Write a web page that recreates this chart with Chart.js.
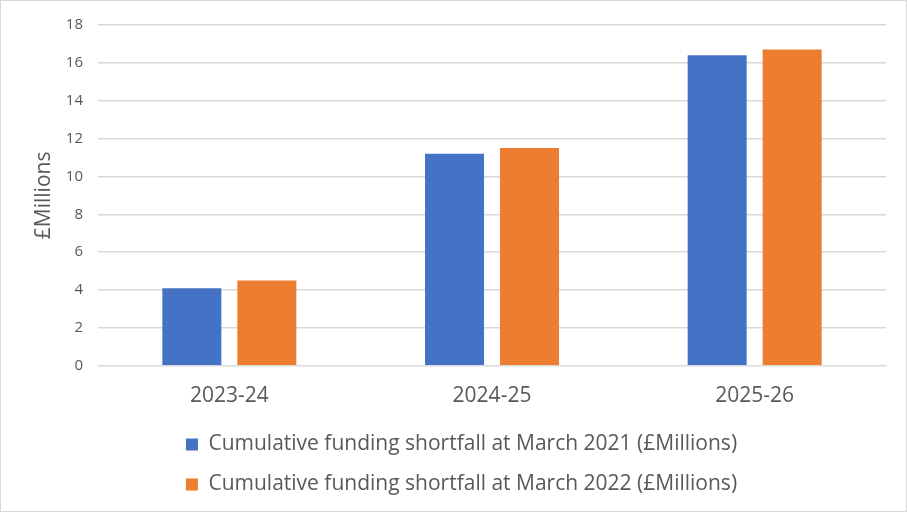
<!DOCTYPE html>
<html><head><meta charset="utf-8">
<script src="https://cdn.jsdelivr.net/npm/chart.js@4"></script>
<style>
html,body{margin:0;padding:0;background:#fff;}
#wrap{position:absolute;left:0;top:0;width:905px;height:510px;border:1px solid #d9d9d9;}
</style></head><body>
<div id="wrap"><canvas id="c" width="905" height="510"></canvas></div>
<script>
const categories = ["2023-24", "2024-25", "2025-26"];
const series2021 = [4.1, 11.2, 16.4];
const series2022 = [4.5, 11.5, 16.7];
const seriesNames = ["Cumulative funding shortfall at March 2021 (£Millions)", "Cumulative funding shortfall at March 2022 (£Millions)"];
const yTicks = [0, 2, 4, 6, 8, 10, 12, 14, 16, 18];

const fontFamily = "'Open Sans', 'Liberation Sans', sans-serif";

const legendTrim = {
  id: 'legendTrim',
  afterInit(chart) {
    const lg = chart.legend;
    if (lg && !lg._trimmed) {
      const origFit = lg.fit.bind(lg);
      lg.fit = function () { origFit(); this.height -= 7; };
      const origDraw = lg.draw.bind(lg);
      lg.draw = function () {
        const ctx = this.ctx;
        ctx.save();
        ctx.translate(13, -4);
        origDraw();
        ctx.restore();
      };
      lg._trimmed = true;
    }
  }
};

new Chart(document.getElementById('c'), {
  type: 'bar',
  data: {
    labels: categories,
    datasets: [
      {label: seriesNames[0], data: series2021, backgroundColor: '#4472c4', categoryPercentage: 0.571, barPercentage: 0.787},
      {label: seriesNames[1], data: series2022, backgroundColor: '#ed7d31', categoryPercentage: 0.571, barPercentage: 0.787}
    ]
  },
  plugins: [legendTrim],
  options: {
    responsive: false,
    animation: false,
    devicePixelRatio: 1,
    layout: {padding: {top: 6, right: 20, left: 10, bottom: 9}},
    plugins: {
      tooltip: {enabled: false},
      legend: {
        position: 'bottom',
        labels: {
          color: '#595959',
          font: {family: fontFamily, size: 21},
          boxWidth: 12, boxHeight: 12,
          padding: 19
        }
      }
    },
    scales: {
      x: {
        grid: {display: false},
        border: {color: '#d9d9d9'},
        ticks: {color: '#595959', font: {family: fontFamily, size: 21}, padding: 10}
      },
      y: {
        min: 0, max: 18,
        afterBuildTicks: s => { s.ticks = yTicks.map(v => ({value: v})); },
        afterFit: s => { s.width = 87; },
        grid: {color: '#d9d9d9', lineWidth: 1.5, drawTicks: false},
        border: {display: false},
        ticks: {color: '#595959', font: {family: fontFamily, size: 15}, padding: 15},
        title: {display: true, text: '£Millions', color: '#595959', font: {family: fontFamily, size: 21}, padding: {top: 20, bottom: 0}}
      }
    }
  }
});
</script>
</body></html>
